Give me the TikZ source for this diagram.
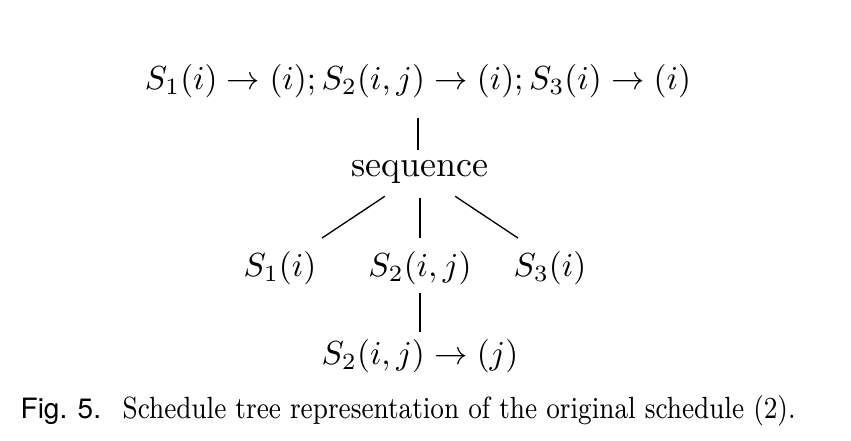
\documentclass[tikz,border=0pt]{standalone}
\usepackage{fontspec}
\setsansfont{TeX Gyre Heros}
\usepackage{amsmath}
\usetikzlibrary{positioning}
\tikzstyle{treenode} = [inner sep=0pt, outer sep=0pt]
\tikzstyle{edge} = [draw=black, line width=0.4pt]
\tikzstyle{figlabel} = [inner sep=0pt, anchor=base west, font=\sffamily\fontsize{8.4}{10}\selectfont]
\tikzstyle{figtext} = [inner sep=0pt, anchor=base west, font=\fontsize{9.2}{11}\selectfont]
\newcommand{\captxt}[1]{\resizebox{201.9pt}{\height}{#1}}

\begin{document}
\begin{tikzpicture}[x=0.3pt, y=-0.3pt]
\useasboundingbox (0,0) rectangle (851,440);
\node [treenode] (domain) at (418,81) {$S_1(i)\rightarrow(i);S_2(i,j)\rightarrow(i);S_3(i)\rightarrow(i)$};
\node [treenode, font=\fontsize{10.8}{13}\selectfont] (seq) at (420,172) {sequence};
\node [treenode] (s1) at (280,268) {$S_1(i)$};
\node [treenode] (s2) at (420,268) {$S_2(i,j)$};
\node [treenode] (s3) at (550,268) {$S_3(i)$};
\node [treenode] (band) at (420,356) {$S_2(i,j)\rightarrow(j)$};
\node [figlabel] (fig) at (20,418) {Fig. 5.};
\node [figtext] (cap) at (122,418) {\captxt{Schedule tree representation of the original schedule (2).}};

\draw [edge, shorten <=6pt, shorten >=3.2pt] (domain.south) -- (domain.south |- seq.north);
\draw [edge, shorten <=6.9pt, shorten >=7.2pt] ([xshift=-4.8pt]seq.south) -- ([xshift=6.6pt]s1.north);
\draw [edge, shorten <=4.4pt, shorten >=4pt] (seq.south) -- (s2.north);
\draw [edge, shorten <=6.9pt, shorten >=7.2pt] ([xshift=4.8pt]seq.south) -- ([xshift=-3.6pt]s3.north);
\draw [edge, shorten <=2.5pt, shorten >=2.2pt] (s2.south) -- (band.north);
\end{tikzpicture}
\end{document}
